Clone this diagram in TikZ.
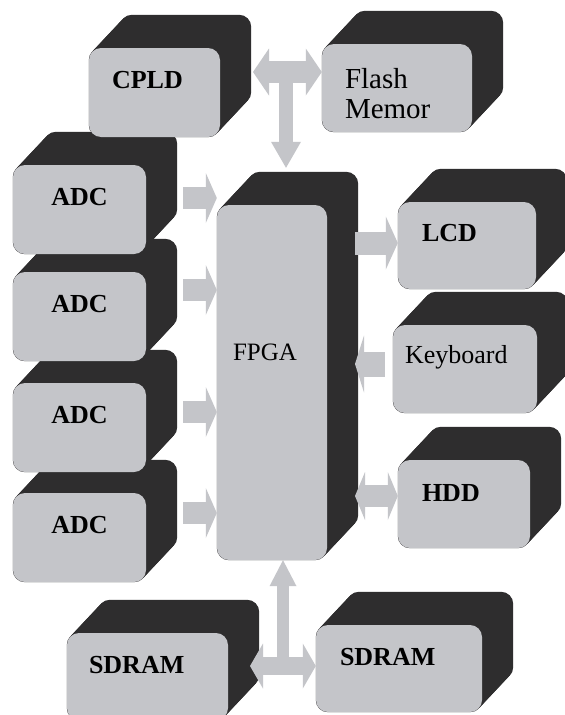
\documentclass[tikz,border=0pt]{standalone}
\usepackage{fontspec}
\setmainfont{Liberation Serif}
\usetikzlibrary{arrows.meta,calc,backgrounds}

\definecolor{facegray}{RGB}{196,197,201}
\definecolor{slabgray}{RGB}{46,45,46}

\tikzset{
  face/.style={fill=facegray, rounded corners=12pt, inner sep=0pt, align=left},
  boldtag/.style={font=\fontsize{26}{30}\selectfont\bfseries},
  plaintag/.style={font=\fontsize{26}{30}\selectfont},
  bus/.style n args={3}{draw=facegray, line width=#1,
    >={Triangle[width=#2, length=#3, line width=0pt]}}
}

% dark body swept behind a face
\newcommand{\slab}[1]{%
  \foreach \t in {0,...,24}
    \fill[slabgray, rounded corners=12pt]
      ($(#1.south west)+{\t/24}*(31,-33)$) rectangle ($(#1.north east)+{\t/24}*(31,-33)$);
}

\begin{document}
\begin{tikzpicture}[x=1pt, y=-1pt]

\useasboundingbox (0,0) rectangle (565,715);

\node[face, boldtag, minimum width=131pt, text width=85pt, text height=40.6pt, text depth=48.4pt] (cpld) at (154.5,92.5) {CPLD};
\node[face, font=\fontsize{29}{30}\selectfont, minimum width=150pt, text width=104pt, text height=44pt, text depth=44pt] (flash) at (397,88) {Flash\\Memor};

\foreach \n/\y in {1/209.5,2/316.5,3/427.5,4/537.5}
  \node[face, boldtag, align=center, minimum width=133pt, text width=113pt, text height=40pt, text depth=49pt] (adc\n) at (79.5,\y) {ADC};

\node[face, font=\fontsize{25}{30}\selectfont, minimum width=110pt, text width=78pt, text height=155pt, text depth=200pt] (fpga) at (272,382.5) {FPGA};

\node[face, boldtag, minimum width=138pt, text width=90pt, text height=39.6pt, text depth=47.4pt] (lcd) at (467,245.5) {LCD};
\node[face, plaintag, minimum width=144pt, text width=120pt, text height=38pt, text depth=50pt] (keyb) at (465,369) {Keyboard};
\node[face, boldtag, minimum width=132pt, text width=84pt, text height=41.6pt, text depth=46.4pt] (hdd) at (464,504) {HDD};

\node[face, boldtag, minimum width=161pt, text width=117pt, text height=40.6pt, text depth=46.4pt] (sdraml) at (147.5,676.5) {SDRAM};
\node[face, boldtag, minimum width=166pt, text width=118pt, text height=40.6pt, text depth=46.4pt] (sdramr) at (399,668.5) {SDRAM};

\begin{scope}[on background layer]
\fill[white] (0,0) rectangle (565,715);
\foreach \b in {cpld,flash,adc1,adc2,adc3,adc4,fpga,lcd,keyb,hdd,sdraml,sdramr}
  {\slab{\b}}
\end{scope}

% buses
\coordinate (topbus) at (253,72);
\coordinate (topdrop) at (286,72);
\draw[bus={22pt}{47pt}{16pt}, <->] (topbus) -- (topbus -| flash.west);
\draw[bus={14pt}{30pt}{26pt}, ->] (topdrop) -- ($(topdrop |- fpga.north)+(0,-37)$);

\foreach \n/\y in {1/198,2/290,3/412,4/513} {
  \coordinate (in\n) at (183,\y);
  \draw[bus={22pt}{50pt}{11pt}, ->] (in\n) -- (in\n -| fpga.west);
}

\coordinate (lcdin) at (355,243);
\draw[bus={23pt}{53pt}{12pt}, ->] (lcdin) -- (lcdin -| lcd.west);
\coordinate (kbout) at (355,364);
\draw[bus={25pt}{57pt}{9pt}, <-] (kbout) -- ($(kbout -| keyb.west)+(-8,0)$);
\coordinate (hddio) at (355,496);
\draw[bus={22pt}{48pt}{10pt}, <->] (hddio) -- (hddio -| hdd.west);

\coordinate (lowbus) at (250,666);
\coordinate (lowrise) at (283,666);
\draw[bus={18pt}{45pt}{13pt}, <->] (lowbus) -- (lowbus -| sdramr.west);
\draw[bus={12pt}{27pt}{26pt}, ->] (lowrise) -- (lowrise |- fpga.south);

\end{tikzpicture}
\end{document}
